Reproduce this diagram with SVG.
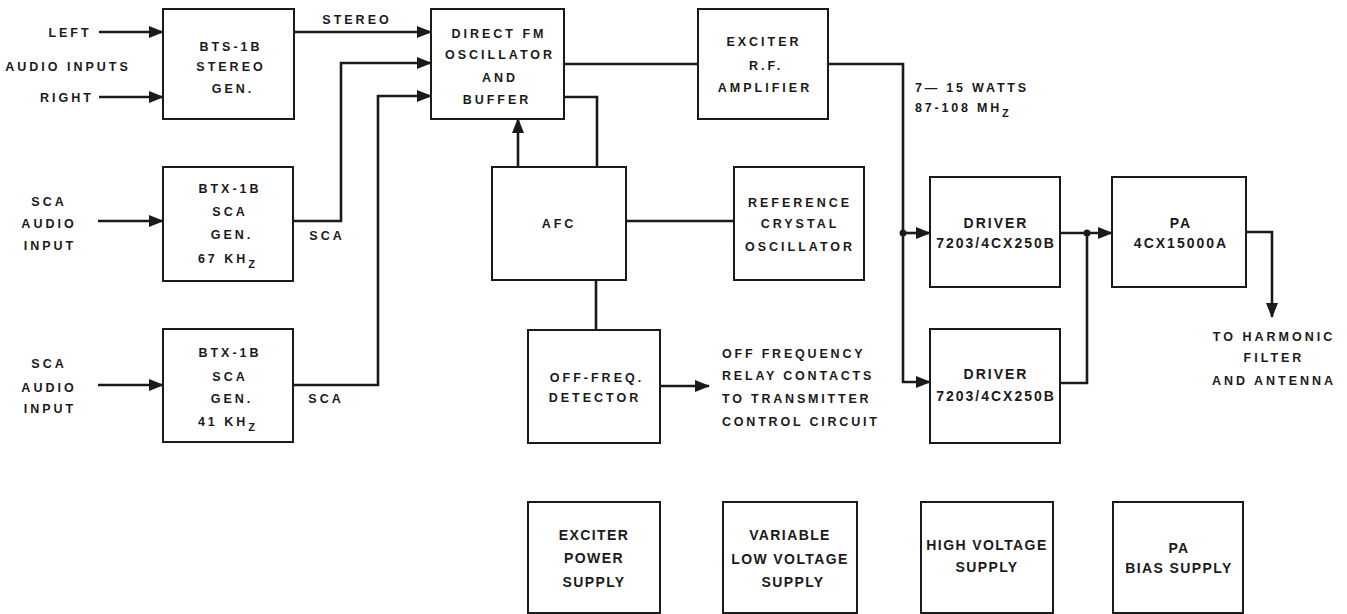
<svg xmlns="http://www.w3.org/2000/svg" width="1347" height="614" viewBox="0 0 1347 614">
<defs>
<style>
.box{fill:#fff;stroke:#1a1a1a;stroke-width:2}
.ln{fill:none;stroke:#1a1a1a;stroke-width:2.6}
.ar{marker-end:url(#ah)}
text{font-family:"Liberation Sans",Arial,sans-serif;font-weight:bold;fill:#1a1a1a}
.t{font-size:12.5px;letter-spacing:3px;text-anchor:middle}
.tl{font-size:12.5px;letter-spacing:2.8px;text-anchor:start}
.b{font-size:14px;letter-spacing:2px;text-anchor:middle}
.s{font-size:14px;letter-spacing:1.4px;text-anchor:middle}
.sub{font-size:11px}
</style>
<marker id="ah" markerUnits="userSpaceOnUse" markerWidth="15" markerHeight="12" refX="14" refY="6" orient="auto">
<path d="M0,0 L15,6 L0,12 z" fill="#1a1a1a"/>
</marker>
</defs>
<rect width="1347" height="614" fill="#fff"/>

<g id="connectors">
<line class="ln ar" x1="99" y1="32" x2="163" y2="32"/>
<line class="ln ar" x1="99" y1="97" x2="163" y2="97"/>
<line class="ln ar" x1="294" y1="32" x2="431" y2="32"/>
<polyline class="ln ar" points="293,221 341,221 341,63 431,63"/>
<polyline class="ln ar" points="293,385 378,385 378,96 431,96"/>
<line class="ln ar" x1="98" y1="221" x2="163" y2="221"/>
<line class="ln ar" x1="98" y1="385" x2="163" y2="385"/>
<line class="ln" x1="564" y1="64" x2="698" y2="64"/>
<polyline class="ln ar" points="828,64 903,64 903,382 930,382"/>
<line class="ln ar" x1="903" y1="233" x2="930" y2="233"/>
<circle cx="903" cy="233" r="3.5" fill="#1a1a1a"/>
<polyline class="ln" points="564,97 597,97 597,167"/>
<line class="ln ar" x1="518" y1="167" x2="518" y2="119"/>
<line class="ln" x1="626" y1="221" x2="734" y2="221"/>
<line class="ln" x1="596" y1="280" x2="596" y2="330"/>
<line class="ln ar" x1="660" y1="386" x2="709" y2="386"/>
<line class="ln ar" x1="1060" y1="233" x2="1112" y2="233"/>
<circle cx="1087" cy="233" r="3.5" fill="#1a1a1a"/>
<polyline class="ln" points="1060,383 1087,383 1087,233"/>
<polyline class="ln ar" points="1246,232 1272,232 1272,317"/>
</g>

<g id="labels">
<text class="t" x="70" y="37">LEFT</text>
<text class="t" x="68" y="71">AUDIO INPUTS</text>
<text class="t" x="67" y="102">RIGHT</text>
<text class="t" x="357" y="24">STEREO</text>
<text class="t" x="49" y="206">SCA</text>
<text class="t" x="49" y="228">AUDIO</text>
<text class="t" x="50" y="250">INPUT</text>
<text class="t" x="49" y="368">SCA</text>
<text class="t" x="49" y="392">AUDIO</text>
<text class="t" x="50" y="413">INPUT</text>
<text class="t" x="327" y="240">SCA</text>
<text class="t" x="326" y="403">SCA</text>
<text class="tl" x="915" y="92">7— 15 WATTS</text>
<text class="tl" x="915" y="112">87-108 MH<tspan class="sub" dy="5">Z</tspan></text>
<text class="tl" x="722" y="358">OFF FREQUENCY</text>
<text class="tl" x="722" y="380">RELAY CONTACTS</text>
<text class="tl" x="722" y="403">TO TRANSMITTER</text>
<text class="tl" x="722" y="426">CONTROL CIRCUIT</text>
<text class="t" x="1274" y="341">TO HARMONIC</text>
<text class="t" x="1274" y="362">FILTER</text>
<text class="t" x="1274" y="385">AND ANTENNA</text>
</g>

<g id="bts">
<rect class="box" x="163" y="9" width="131" height="110"/>
<text class="t" x="231" y="51">BTS-1B</text>
<text class="t" x="231" y="71">STEREO</text>
<text class="t" x="233" y="93">GEN.</text>
</g>
<g id="btx67">
<rect class="box" x="163" y="167" width="130" height="114"/>
<text class="t" x="230" y="193">BTX-1B</text>
<text class="t" x="230" y="216">SCA</text>
<text class="t" x="232" y="239">GEN.</text>
<text class="t" x="228" y="263">67 KH<tspan class="sub" dy="5">Z</tspan></text>
</g>
<g id="btx41">
<rect class="box" x="163" y="329" width="130" height="113"/>
<text class="t" x="230" y="357">BTX-1B</text>
<text class="t" x="230" y="381">SCA</text>
<text class="t" x="232" y="403">GEN.</text>
<text class="t" x="228" y="426">41 KH<tspan class="sub" dy="5">Z</tspan></text>
</g>
<g id="dfm">
<rect class="box" x="431" y="9" width="133" height="110"/>
<text class="t" x="499" y="38">DIRECT FM</text>
<text class="t" x="500" y="59">OSCILLATOR</text>
<text class="t" x="500" y="82">AND</text>
<text class="t" x="497" y="104">BUFFER</text>
</g>
<g id="exciter">
<rect class="box" x="698" y="9" width="130" height="110"/>
<text class="t" x="764" y="46">EXCITER</text>
<text class="t" x="766" y="70">R.F.</text>
<text class="t" x="765" y="92">AMPLIFIER</text>
</g>
<g id="afc">
<rect class="box" x="492" y="167" width="134" height="113"/>
<text class="t" x="559" y="228">AFC</text>
</g>
<g id="ref">
<rect class="box" x="734" y="167" width="130" height="113"/>
<text class="t" x="800" y="207">REFERENCE</text>
<text class="t" x="800" y="228">CRYSTAL</text>
<text class="t" x="800" y="251">OSCILLATOR</text>
</g>
<g id="offfreq">
<rect class="box" x="528" y="330" width="132" height="113"/>
<text class="t" x="597" y="382">OFF-FREQ.</text>
<text class="t" x="595" y="402">DETECTOR</text>
</g>
<g id="driver1">
<rect class="box" x="930" y="177" width="130" height="110"/>
<text class="b" x="996" y="228">DRIVER</text>
<text class="b" x="996" y="248">7203/4CX250B</text>
</g>
<g id="driver2">
<rect class="box" x="930" y="329" width="130" height="114"/>
<text class="b" x="996" y="379">DRIVER</text>
<text class="b" x="996" y="401">7203/4CX250B</text>
</g>
<g id="pa">
<rect class="box" x="1112" y="177" width="134" height="110"/>
<text class="b" x="1181" y="228">PA</text>
<text class="b" x="1181" y="248">4CX15000A</text>
</g>
<g id="excpwr">
<rect class="box" x="528" y="502" width="132" height="111"/>
<text class="s" x="594" y="540">EXCITER</text>
<text class="s" x="594" y="563">POWER</text>
<text class="s" x="594" y="587">SUPPLY</text>
</g>
<g id="lvsupply">
<rect class="box" x="723" y="502" width="134" height="111"/>
<text class="s" x="790" y="540">VARIABLE</text>
<text class="s" x="790" y="564">LOW VOLTAGE</text>
<text class="s" x="793" y="587">SUPPLY</text>
</g>
<g id="hvsupply">
<rect class="box" x="921" y="502" width="132" height="111"/>
<text class="s" x="987" y="550">HIGH VOLTAGE</text>
<text class="s" x="987" y="572">SUPPLY</text>
</g>
<g id="biassupply">
<rect class="box" x="1113" y="502" width="130" height="111"/>
<text class="s" x="1179" y="553">PA</text>
<text class="s" x="1179" y="573">BIAS SUPPLY</text>
</g>
</svg>
